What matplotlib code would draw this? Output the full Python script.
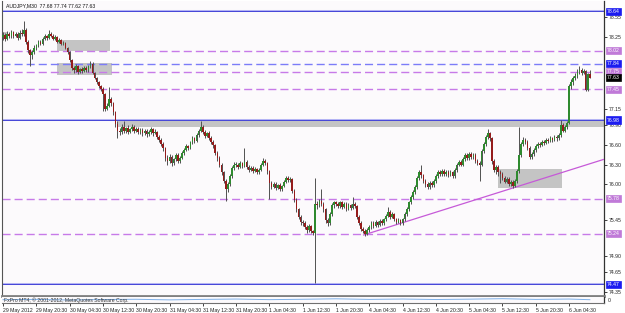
import matplotlib
matplotlib.use('Agg')
import matplotlib.pyplot as plt
from matplotlib.patches import Rectangle
import matplotlib.transforms as mtransforms

plt.rcParams['font.family'] = ['Liberation Sans', 'DejaVu Sans']

# ---------------- data ----------------
first_open = 78.25
closes = [
    78.28, 78.22, 78.30, 78.26, 78.32, 78.27, 78.30, 78.24, 78.31, 78.29, 78.36, 78.18, 78.05, 77.98, 78.02, 78.08,
    78.12, 78.18, 78.15, 78.22, 78.26, 78.24, 78.30, 78.27, 78.22, 78.25, 78.18, 78.20, 78.14, 78.16, 78.08, 78.02,
    77.90, 77.78, 77.74, 77.80, 77.72, 77.76, 77.73, 77.78, 77.74, 77.80, 77.84, 77.70, 77.62, 77.56, 77.50, 77.46,
    77.38, 77.15, 77.20, 77.30, 77.24, 77.10, 76.92, 76.82, 76.80, 76.88, 76.82, 76.86, 76.80, 76.84, 76.88, 76.82,
    76.85, 76.80, 76.83, 76.78, 76.82, 76.76, 76.80, 76.84, 76.78, 76.80, 76.72, 76.68, 76.62, 76.55, 76.40, 76.35,
    76.42, 76.32, 76.38, 76.45, 76.35, 76.40, 76.48, 76.52, 76.58, 76.55, 76.64, 76.70, 76.66, 76.75, 76.82, 76.88,
    76.80, 76.74, 76.78, 76.70, 76.65, 76.60, 76.48, 76.40, 76.30, 76.18, 76.05, 75.92, 76.00, 76.12, 76.25, 76.30,
    76.30, 76.26, 76.32, 76.28, 76.34, 76.26, 76.22, 76.25, 76.20, 76.23, 76.18, 76.22, 76.30, 76.36, 76.32, 76.20,
    76.02, 75.96, 76.00, 75.94, 75.98, 75.92, 75.97, 76.04, 76.10, 76.06, 76.08, 75.90, 75.76, 75.62, 75.50, 75.42,
    75.40, 75.35, 75.30, 75.36, 75.28, 75.25, 75.70, 75.68, 75.74, 75.70, 75.62, 75.45, 75.40, 75.55, 75.68, 75.72,
    75.70, 75.66, 75.72, 75.65, 75.70, 75.62, 75.68, 75.64, 75.70, 75.66, 75.50, 75.40, 75.32, 75.28, 75.24, 75.30,
    75.35, 75.40, 75.36, 75.42, 75.38, 75.44, 75.40, 75.46, 75.52, 75.58, 75.50, 75.54, 75.46, 75.42, 75.45, 75.40,
    75.46, 75.55, 75.62, 75.72, 75.80, 75.88, 75.96, 76.10, 76.18, 76.14, 76.05, 76.00, 75.96, 76.02, 75.98, 76.05,
    76.12, 76.18, 76.15, 76.20, 76.16, 76.19, 76.14, 76.18, 76.12, 76.22, 76.30, 76.34, 76.30, 76.38, 76.44, 76.40,
    76.46, 76.42, 76.45, 76.36, 76.32, 76.30, 76.50, 76.62, 76.72, 76.78, 76.70, 76.35, 76.22, 76.26, 76.18, 76.15,
    76.10, 76.04, 76.08, 76.00, 76.03, 75.97, 76.05, 76.20, 76.45, 76.62, 76.68, 76.64, 76.55, 76.42, 76.46, 76.52,
    76.58, 76.62, 76.60, 76.65, 76.63, 76.68, 76.66, 76.70, 76.68, 76.72, 76.70, 76.75, 76.90, 76.82, 76.88, 76.94,
    77.50, 77.56, 77.62, 77.66, 77.72, 77.75, 77.70, 77.73, 77.44, 77.68, 77.63,
]
highs = [
    78.33, 78.31, 78.34, 78.33, 78.36, 78.34, 78.33, 78.32, 78.35, 78.37, 78.49, 78.38, 78.20, 78.07, 78.05, 78.12,
    78.15, 78.21, 78.20, 78.25, 78.29, 78.28, 78.36, 78.32, 78.29, 78.28, 78.27, 78.23, 78.22, 78.19, 78.18, 78.10,
    78.04, 77.92, 77.80, 77.83, 77.82, 77.78, 77.79, 77.81, 77.80, 77.82, 77.88, 77.86, 77.72, 77.64, 77.58, 77.52,
    77.48, 77.40, 77.24, 77.48, 77.33, 77.26, 77.12, 76.96, 76.86, 76.92, 76.97, 76.88, 76.90, 76.86, 76.92, 76.90,
    76.88, 76.88, 76.86, 76.86, 76.85, 76.84, 76.83, 76.88, 76.86, 76.84, 76.82, 76.75, 76.70, 76.64, 76.57, 76.44,
    76.46, 76.44, 76.40, 76.48, 76.47, 76.43, 76.50, 76.55, 76.61, 76.60, 76.66, 76.73, 76.72, 76.78, 76.85, 76.97,
    76.90, 76.83, 76.80, 76.81, 76.73, 76.68, 76.62, 76.51, 76.43, 76.33, 76.20, 76.08, 76.03, 76.15, 76.28, 76.34,
    76.34, 76.33, 76.35, 76.34, 76.55, 76.37, 76.29, 76.28, 76.27, 76.26, 76.25, 76.25, 76.33, 76.40, 76.39, 76.34,
    76.22, 76.05, 76.03, 76.03, 76.00, 76.01, 75.99, 76.07, 76.13, 76.13, 76.11, 76.10, 75.93, 75.79, 75.64, 75.53,
    75.45, 75.43, 75.38, 75.39, 75.38, 75.30, 76.09, 75.74, 75.77, 75.92, 75.73, 75.64, 75.48, 75.58, 75.71, 75.75,
    75.75, 75.73, 75.75, 75.74, 75.73, 75.72, 75.71, 75.70, 75.80, 75.73, 75.68, 75.53, 75.43, 75.35, 75.31, 75.33,
    75.38, 75.43, 75.43, 75.45, 75.44, 75.47, 75.46, 75.49, 75.55, 75.65, 75.61, 75.57, 75.56, 75.48, 75.48, 75.47,
    75.49, 75.58, 75.65, 75.75, 75.83, 75.91, 75.99, 76.13, 76.21, 76.30, 76.16, 76.08, 76.03, 76.05, 76.05, 76.08,
    76.15, 76.21, 76.21, 76.23, 76.23, 76.22, 76.22, 76.21, 76.20, 76.25, 76.33, 76.37, 76.37, 76.41, 76.48, 76.47,
    76.49, 76.49, 76.48, 76.47, 76.39, 76.35, 76.53, 76.65, 76.75, 76.84, 76.80, 76.72, 76.38, 76.29, 76.29, 76.21,
    76.18, 76.13, 76.11, 76.11, 76.06, 76.06, 76.08, 76.23, 76.87, 76.65, 76.72, 76.71, 76.67, 76.58, 76.49, 76.55,
    76.61, 76.65, 76.65, 76.68, 76.67, 76.71, 76.71, 76.73, 76.72, 76.75, 76.75, 76.78, 76.98, 76.93, 76.91, 76.97,
    77.53, 77.60, 77.66, 77.70, 77.76, 77.80, 77.77, 77.76, 77.75, 77.70, 77.74,
]
lows = [
    78.20, 78.19, 78.20, 78.23, 78.24, 78.24, 78.25, 78.21, 78.22, 78.26, 78.27, 78.15, 78.00, 77.80, 77.92, 77.99,
    78.05, 78.10, 78.13, 78.13, 78.20, 78.21, 78.22, 78.25, 78.20, 78.20, 78.16, 78.16, 78.12, 78.12, 78.06, 77.99,
    77.86, 77.75, 77.70, 77.72, 77.69, 77.70, 77.70, 77.71, 77.71, 77.72, 77.78, 77.68, 77.60, 77.53, 77.47, 77.42,
    77.12, 77.12, 77.13, 77.18, 77.20, 77.06, 76.88, 76.70, 76.75, 76.76, 76.78, 76.78, 76.77, 76.78, 76.82, 76.78,
    76.79, 76.76, 76.77, 76.74, 76.75, 76.72, 76.73, 76.77, 76.74, 76.76, 76.69, 76.64, 76.58, 76.50, 76.36, 76.30,
    76.32, 76.28, 76.30, 76.36, 76.32, 76.33, 76.38, 76.45, 76.50, 76.52, 76.53, 76.62, 76.63, 76.64, 76.72, 76.79,
    76.77, 76.71, 76.72, 76.67, 76.62, 76.56, 76.45, 76.36, 76.26, 76.14, 76.01, 75.74, 75.88, 75.97, 76.10, 76.22,
    76.26, 76.23, 76.24, 76.25, 76.26, 76.23, 76.19, 76.20, 76.17, 76.18, 76.15, 76.16, 76.20, 76.28, 76.29, 76.16,
    75.78, 75.93, 75.94, 75.91, 75.92, 75.89, 75.90, 75.95, 76.02, 76.03, 76.03, 75.87, 75.72, 75.58, 75.46, 75.38,
    75.36, 75.32, 75.26, 75.27, 75.25, 75.22, 74.49, 75.62, 75.65, 75.66, 75.58, 75.40, 75.36, 75.38, 75.52, 75.64,
    75.67, 75.63, 75.64, 75.62, 75.63, 75.59, 75.60, 75.61, 75.62, 75.63, 75.47, 75.37, 75.29, 75.25, 75.21, 75.22,
    75.27, 75.32, 75.33, 75.34, 75.35, 75.36, 75.37, 75.38, 75.44, 75.50, 75.47, 75.48, 75.43, 75.39, 75.40, 75.37,
    75.37, 75.43, 75.52, 75.59, 75.69, 75.77, 75.85, 75.93, 76.07, 76.10, 76.02, 75.96, 75.92, 75.93, 75.95, 75.96,
    76.02, 76.09, 76.12, 76.12, 76.13, 76.13, 76.11, 76.12, 76.09, 76.10, 76.19, 76.27, 76.27, 76.27, 76.35, 76.37,
    76.37, 76.39, 76.39, 76.33, 76.29, 76.05, 76.27, 76.47, 76.59, 76.69, 76.66, 76.31, 76.18, 76.16, 76.12, 76.02,
    76.06, 76.01, 76.01, 75.97, 75.97, 75.94, 75.95, 76.02, 76.17, 76.42, 76.58, 76.61, 76.52, 76.38, 76.39, 76.43,
    76.49, 76.55, 76.57, 76.58, 76.60, 76.61, 76.63, 76.64, 76.65, 76.66, 76.66, 76.68, 76.72, 76.79, 76.80, 76.85,
    76.92, 77.46, 77.52, 77.59, 77.63, 77.69, 77.67, 77.68, 77.42, 77.42, 77.62,
]

time_labels = ["29 May 2012", "29 May 20:30", "30 May 04:30", "30 May 12:30", "30 May 20:30",
               "31 May 04:30", "31 May 12:30", "31 May 20:30", "1 Jun 04:30", "1 Jun 12:30",
               "1 Jun 20:30", "4 Jun 04:30", "4 Jun 12:30", "4 Jun 20:30", "5 Jun 04:30",
               "5 Jun 12:30", "5 Jun 20:30", "6 Jun 04:30"]
bars_per_label = 16

price_ticks = [78.55, 78.25, 77.15, 76.90, 76.60, 76.30, 76.00, 75.45, 74.90, 74.65, 74.35]

# horizontal levels
solid_blue_levels = [78.64, 76.98, 74.47]
dashed_blue_levels = [77.84]
dashed_violet_levels = [78.04, 77.72, 77.45, 75.78, 75.24]

# highlighted price labels on the axis
tag_prices = [78.64, 78.04, 77.84, 77.72, 77.63, 77.45, 76.98, 75.78, 75.24, 74.47]
tag_texts = ["78.64", "78.02", "77.84", "77.75", "77.63", "77.45", "76.98", "75.78", "75.24", "74.47"]
tag_colors = ["#1c1cf0", "#c07ad8", "#1c1cf0", "#c07ad8", "#000000", "#c07ad8", "#1c1cf0",
              "#c07ad8", "#c07ad8", "#1c1cf0"]

# gray zones: (bar start, bar end, price low, price high)
zone_bar_start = [-0.5, 25.9, 25.9, 54.8, 237.8]
zone_bar_end = [1.9, 51.4, 52.4, 288.8, 268.6]
zone_low = [78.22, 78.04, 77.67, 76.88, 75.94]
zone_high = [78.33, 78.20, 77.85, 76.97, 76.23]

# trend line (bar, price)
trend_bars = [173.0, 288.8]
trend_prices = [75.22, 76.38]

# lower indicator window
ind_bars = [0, 16, 32, 48, 64, 80, 96, 112, 128, 144, 160, 176, 192, 208, 224, 240, 256, 272, 282]
ind_vals = [0.55, 0.60, 0.50, 0.58, 0.62, 0.52, 0.60, 0.66, 0.56, 0.62, 0.70, 0.60, 0.66, 0.58, 0.64, 0.72, 0.60, 0.66, 0.55]

title_text = "AUDJPY,M30  77.68 77.74 77.62 77.63"
footer_text = "FxPro MT4, © 2001-2012, MetaQuotes Software Corp."

# ---------------- figure ----------------
W, H = 625, 313
FS = 3.7
fig = plt.figure(figsize=(W / 100, H / 100), dpi=100)
fig.patch.set_facecolor('white')

def fx(px):
    return px / W

def fy(py):
    return 1 - py / H

x0, x1 = 2, 604
ax = fig.add_axes([fx(x0), fy(296), fx(x1 - x0), (296 - 1) / H])
ax.set_facecolor('#fcfafc')
xmin, xmax = -0.5, 288.8
ymin, ymax = 74.29, 78.80
ax.set_xlim(xmin, xmax)
ax.set_ylim(ymin, ymax)

n = len(closes)
opens = [first_open] + closes[:-1]
idx = list(range(n))

# zones
for bs, be, lo, hi in zip(zone_bar_start, zone_bar_end, zone_low, zone_high):
    ax.add_patch(Rectangle((bs, lo), be - bs, hi - lo, facecolor='#c4c4c4', edgecolor='none', zorder=1))

# levels
for lv in solid_blue_levels:
    ax.axhline(lv, color='#b4b4f4', lw=1.45, zorder=2)
    ax.axhline(lv, color='#4848d8', lw=0.72, zorder=2)
for lv in dashed_blue_levels:
    ax.axhline(lv, color='#7c7cf8', lw=1.0, dashes=(5.8, 2.9), zorder=2)
for lv in dashed_violet_levels:
    ax.axhline(lv, color='#c77ae8', lw=1.0, dashes=(5.8, 2.9), zorder=2)

# trend line
ax.plot(trend_bars, trend_prices, color='#c65ad8', lw=0.9, zorder=3, solid_capstyle='butt')

# candles
up_color = '#2f8a2f'
dn_color = '#951c1c'
ax.vlines(idx, lows, highs, colors='#555555', lw=0.72, zorder=4)
bodies_b = [min(o, c) for o, c in zip(opens, closes)]
bodies_h = [max(abs(c - o), 0.01) for o, c in zip(opens, closes)]
cols = [up_color if c >= o else dn_color for o, c in zip(opens, closes)]
ax.bar(idx, bodies_h, bottom=bodies_b, width=0.78, color=cols, linewidth=0, zorder=5)

# axes styling
ax.spines['top'].set_visible(False)
ax.spines['left'].set_color('#555555')
ax.spines['left'].set_linewidth(0.8)
ax.spines['right'].set_color('#333333')
ax.spines['right'].set_linewidth(0.9)
ax.spines['bottom'].set_color('#808080')
ax.spines['bottom'].set_linewidth(2.0)
ax.set_xticks([])
ax.yaxis.tick_right()
ax.set_yticks(price_ticks)
ax.set_yticklabels([f"{p:.2f}" for p in price_ticks])
ax.tick_params(axis='y', direction='out', length=2.2, width=0.6, pad=1.0, labelsize=FS,
               colors='#222222')

# highlighted tags
trans = mtransforms.blended_transform_factory(ax.transAxes, ax.transData)
for p, t, c in zip(tag_prices, tag_texts, tag_colors):
    ax.text(1.0045, p, t, transform=trans, ha='left', va='center', fontsize=FS,
            color='white', clip_on=False, zorder=10,
            bbox=dict(boxstyle='square,pad=0.22', facecolor=c, edgecolor=c, linewidth=0.5))

ax.text(0.006, 0.993, title_text, transform=ax.transAxes, ha='left', va='top',
        fontsize=FS, color='#111111', zorder=10)

# indicator subwindow
ax2 = fig.add_axes([fx(x0), fy(303), fx(x1 - x0), 6 / H])
ax2.set_facecolor('#fcfafc')
ax2.set_xlim(xmin, xmax)
ax2.set_ylim(0, 1)
ax2.plot(ind_bars, ind_vals, color='#7fb0e8', lw=0.7)
ax2.text(0.003, 0.5, footer_text, transform=ax2.transAxes, ha='left', va='center',
         fontsize=FS, color='#333333')
for s in ['top', 'left']:
    ax2.spines[s].set_visible(False)
ax2.spines['right'].set_color('#333333')
ax2.spines['right'].set_linewidth(0.9)
ax2.spines['bottom'].set_color('#707070')
ax2.spines['bottom'].set_linewidth(0.8)
ax2.set_yticks([])
tick_pos = [bars_per_label * j for j in range(len(time_labels))]
ax2.set_xticks(tick_pos)
ax2.set_xticklabels(time_labels)
for lab in ax2.get_xticklabels():
    lab.set_horizontalalignment('left')
ax2.tick_params(axis='x', direction='out', length=2.2, width=0.6, pad=1.2, labelsize=FS,
                colors='#222222')
ax2.text(1.006, 0.5, "0", transform=ax2.transAxes, ha='left', va='center', fontsize=FS,
         color='#222222', clip_on=False)

fig.savefig('out.png', dpi=100, facecolor='white')
